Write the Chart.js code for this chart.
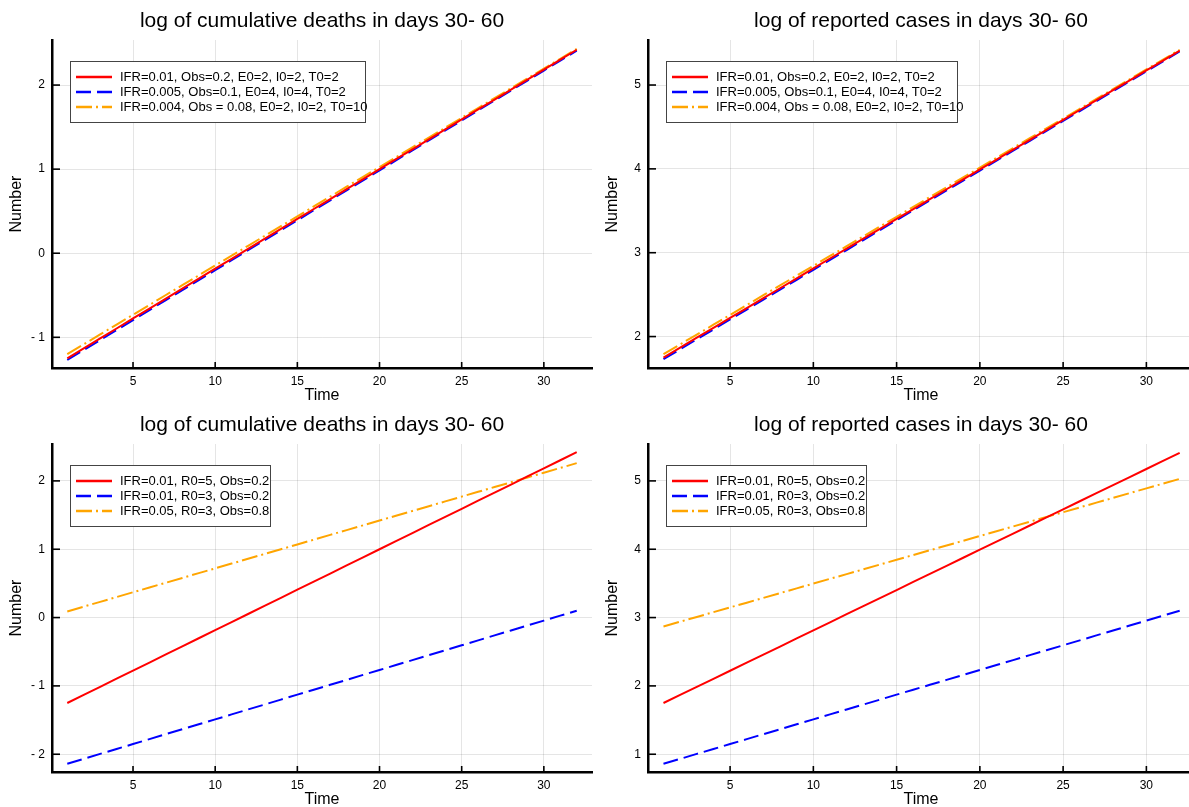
<!DOCTYPE html>
<html><head><meta charset="utf-8">
<script src="https://cdn.jsdelivr.net/npm/chart.js@4.4.0/dist/chart.umd.min.js"></script>
<style>
html,body{margin:0;padding:0;background:#fff;width:1189px;height:807px;overflow:hidden;position:relative}
canvas{position:absolute}
</style></head><body>
<canvas id="c1" width="600" height="404" style="left:0;top:0"></canvas>
<canvas id="c2" width="593" height="404" style="left:596px;top:0"></canvas>
<canvas id="c3" width="600" height="403" style="left:0;top:404px"></canvas>
<canvas id="c4" width="593" height="403" style="left:596px;top:404px"></canvas>
<script>
// ---- data ----
const days = [1,2,3,4,5,6,7,8,9,10,11,12,13,14,15,16,17,18,19,20,21,22,23,24,25,26,27,28,29,30,31,32];
const xTicks = [5,10,15,20,25,30];

const titleDeaths = 'log of cumulative deaths in days 30- 60';
const titleCases = 'log of reported cases in days 30- 60';
const xLabel = 'Time';
const yLabel = 'Number';

const labelsTop = ['IFR=0.01, Obs=0.2, E0=2, I0=2, T0=2', 'IFR=0.005, Obs=0.1, E0=4, I0=4, T0=2', 'IFR=0.004, Obs = 0.08, E0=2, I0=2, T0=10'];
const labelsBottom = ['IFR=0.01, R0=5, Obs=0.2', 'IFR=0.01, R0=3, Obs=0.2', 'IFR=0.05, R0=3, Obs=0.8'];

// top-left: log cumulative deaths
const deathsA1 = [-1.250,-1.132,-1.013,-0.895,-0.776,-0.658,-0.540,-0.421,-0.303,-0.184,-0.066,0.052,0.171,0.289,0.408,0.526,0.644,0.763,0.881,1.000,1.118,1.236,1.355,1.473,1.592,1.710,1.828,1.947,2.065,2.183,2.302,2.420];
const deathsA2 = [-1.270,-1.151,-1.033,-0.914,-0.795,-0.676,-0.558,-0.439,-0.320,-0.202,-0.083,0.036,0.155,0.273,0.392,0.511,0.629,0.748,0.867,0.985,1.104,1.223,1.342,1.460,1.579,1.698,1.816,1.935,2.054,2.173,2.291,2.410];
const deathsA3 = [-1.200,-1.083,-0.966,-0.849,-0.732,-0.615,-0.497,-0.380,-0.263,-0.146,-0.029,0.088,0.205,0.322,0.439,0.556,0.674,0.791,0.908,1.025,1.142,1.259,1.376,1.493,1.610,1.727,1.845,1.962,2.079,2.196,2.313,2.430];
// top-right: log reported cases
const casesA1 = [1.750,1.868,1.986,2.104,2.222,2.340,2.458,2.576,2.695,2.813,2.931,3.049,3.167,3.285,3.403,3.521,3.639,3.757,3.875,3.993,4.111,4.229,4.347,4.466,4.584,4.702,4.820,4.938,5.056,5.174,5.292,5.410];
const casesA2 = [1.730,1.848,1.967,2.085,2.204,2.322,2.440,2.559,2.677,2.796,2.914,3.032,3.151,3.269,3.388,3.506,3.624,3.743,3.861,3.980,4.098,4.216,4.335,4.453,4.572,4.690,4.808,4.927,5.045,5.163,5.282,5.400];
const casesA3 = [1.790,1.907,2.024,2.141,2.258,2.375,2.493,2.610,2.727,2.844,2.961,3.078,3.195,3.312,3.429,3.546,3.664,3.781,3.898,4.015,4.132,4.249,4.366,4.483,4.600,4.717,4.835,4.952,5.069,5.186,5.303,5.420];
// bottom-left: log cumulative deaths
const deathsB1 = [-1.250,-1.132,-1.013,-0.895,-0.776,-0.658,-0.540,-0.421,-0.303,-0.184,-0.066,0.052,0.171,0.289,0.408,0.526,0.644,0.763,0.881,1.000,1.118,1.236,1.355,1.473,1.592,1.710,1.828,1.947,2.065,2.183,2.302,2.420];
const deathsB2 = [-2.140,-2.068,-1.995,-1.923,-1.851,-1.779,-1.706,-1.634,-1.562,-1.490,-1.417,-1.345,-1.273,-1.201,-1.128,-1.056,-0.984,-0.912,-0.839,-0.767,-0.695,-0.623,-0.550,-0.478,-0.406,-0.334,-0.261,-0.189,-0.117,-0.045,0.028,0.100];
const deathsB3 = [0.09,0.16,0.23,0.30,0.37,0.44,0.51,0.58,0.65,0.72,0.79,0.86,0.93,1.00,1.07,1.14,1.21,1.28,1.35,1.42,1.49,1.56,1.63,1.70,1.77,1.84,1.91,1.98,2.05,2.12,2.19,2.26];
// bottom-right: log reported cases
const casesB1 = [1.750,1.868,1.986,2.104,2.222,2.340,2.458,2.576,2.695,2.813,2.931,3.049,3.167,3.285,3.403,3.521,3.639,3.757,3.875,3.993,4.111,4.229,4.347,4.466,4.584,4.702,4.820,4.938,5.056,5.174,5.292,5.410];
const casesB2 = [0.860,0.932,1.005,1.077,1.149,1.221,1.294,1.366,1.438,1.510,1.583,1.655,1.727,1.799,1.872,1.944,2.016,2.088,2.161,2.233,2.305,2.377,2.450,2.522,2.594,2.666,2.739,2.811,2.883,2.955,3.028,3.100];
const casesB3 = [2.870,2.940,3.009,3.079,3.149,3.218,3.288,3.358,3.427,3.497,3.567,3.636,3.706,3.776,3.845,3.915,3.985,4.054,4.124,4.194,4.264,4.333,4.403,4.473,4.542,4.612,4.682,4.751,4.821,4.891,4.960,5.030];

const yTicksTL = [-1,0,1,2];
const yTicksTR = [2,3,4,5];
const yTicksBL = [-2,-1,0,1,2];
const yTicksBR = [1,2,3,4,5];

// ---- styling ----
const FONT = '"Liberation Sans", Arial, Helvetica, sans-serif';
const styles = [
  {color:'#ff0000', dash:[]},
  {color:'#0000ff', dash:[15,6]},
  {color:'#ffa500', dash:[16,4,2,4]}
];
const fmt = v => v < 0 ? '- ' + Math.abs(v) : String(v);

const decor = {
  id:'decor',
  afterDraw(chart, args, o) {
    const ctx = chart.ctx, ca = chart.chartArea;
    const xs = chart.scales.x, ys = chart.scales.y;
    ctx.save();
    // inward ticks
    ctx.strokeStyle = '#000'; ctx.lineWidth = 1.6;
    xs.ticks.forEach(t => { const p = xs.getPixelForValue(t.value); ctx.beginPath(); ctx.moveTo(p, ca.bottom); ctx.lineTo(p, ca.bottom - 6); ctx.stroke(); });
    ys.ticks.forEach(t => { const p = ys.getPixelForValue(t.value); ctx.beginPath(); ctx.moveTo(ca.left, p); ctx.lineTo(ca.left + 8, p); ctx.stroke(); });
    // title
    ctx.fillStyle = '#000';
    ctx.textAlign = 'center'; ctx.textBaseline = 'middle';
    ctx.font = '21px ' + FONT;
    ctx.fillText(o.title, o.cx, 21);
    // axis labels
    ctx.font = '16px ' + FONT;
    ctx.fillText(xLabel, o.cx, 396);
    ctx.save();
    ctx.translate(17, (ca.top + ca.bottom) / 2);
    ctx.rotate(-Math.PI / 2);
    ctx.fillText(yLabel, 0, 0);
    ctx.restore();
    // legend
    const bx = ca.left + 18, by = ca.top + 21, bw = o.legendW, bh = 61;
    ctx.fillStyle = '#fff';
    ctx.fillRect(bx, by, bw, bh);
    ctx.strokeStyle = '#444'; ctx.lineWidth = 1;
    ctx.strokeRect(bx + 0.5, by + 0.5, bw, bh);
    ctx.font = '13px ' + FONT;
    ctx.textAlign = 'left';
    chart.data.datasets.forEach((ds, i) => {
      const y = by + 16 + i * 15;
      ctx.strokeStyle = ds.borderColor; ctx.lineWidth = 2.5;
      ctx.setLineDash(ds.borderDash || []);
      ctx.beginPath(); ctx.moveTo(bx + 6, y); ctx.lineTo(bx + 42, y); ctx.stroke();
      ctx.setLineDash([]);
      ctx.fillStyle = '#000';
      ctx.fillText(ds.label, bx + 50, y + 0.5);
    });
    ctx.restore();
  }
};

function makeChart(id, labels, series, yTicks, cfg) {
  return new Chart(document.getElementById(id), {
    type: 'line',
    data: {
      datasets: series.map((vals, i) => ({
        label: labels[i],
        data: days.map((d, k) => ({x: d, y: vals[k]})),
        borderColor: styles[i].color,
        borderDash: styles[i].dash,
        borderWidth: 2,
        pointRadius: 0,
        tension: 0,
        fill: false
      }))
    },
    options: {
      responsive: false,
      animation: false,
      events: [],
      layout: {padding: {top: 40, left: 0, right: cfg.padRight, bottom: 0}},
      plugins: {
        legend: {display: false},
        tooltip: {enabled: false},
        decor: {title: cfg.title, cx: cfg.cx, legendW: cfg.legendW}
      },
      scales: {
        x: {
          type: 'linear', min: 0.07, max: cfg.xmax,
          afterBuildTicks: s => { s.ticks = xTicks.map(v => ({value: v})); },
          afterFit: s => { s.height = cfg.xh; },
          ticks: {font: {size: 12, family: FONT}, color: '#000', padding: 6, maxRotation: 0, callback: fmt},
          grid: {color: 'rgba(0,0,0,0.1)', lineWidth: 1, drawTicks: false},
          border: {color: '#000', width: 2.5}
        },
        y: {
          type: 'linear', min: cfg.ymin, max: cfg.ymax,
          afterBuildTicks: s => { s.ticks = yTicks.map(v => ({value: v})); },
          afterFit: s => { s.width = 52; },
          ticks: {font: {size: 12, family: FONT}, color: '#000', padding: 7, callback: fmt},
          grid: {color: 'rgba(0,0,0,0.1)', lineWidth: 1, drawTicks: false},
          border: {color: '#000', width: 2.5}
        }
      }
    },
    plugins: [decor]
  });
}

makeChart('c1', labelsTop, [deathsA1, deathsA2, deathsA3], yTicksTL,
  {title: titleDeaths, cx: 322, legendW: 295, padRight: 8, xmax: 32.93, xh: 36, ymin: -1.365, ymax: 2.536});
makeChart('c2', labelsTop, [casesA1, casesA2, casesA3], yTicksTR,
  {title: titleCases, cx: 325, legendW: 291, padRight: 0, xmax: 32.56, xh: 36, ymin: 1.625, ymax: 5.537});
makeChart('c3', labelsBottom, [deathsB1, deathsB2, deathsB3], yTicksBL,
  {title: titleDeaths, cx: 322, legendW: 200, padRight: 8, xmax: 32.93, xh: 35, ymin: -2.26, ymax: 2.54});
makeChart('c4', labelsBottom, [casesB1, casesB2, casesB3], yTicksBR,
  {title: titleCases, cx: 325, legendW: 200, padRight: 0, xmax: 32.56, xh: 35, ymin: 0.74, ymax: 5.54});
</script>
</body></html>
